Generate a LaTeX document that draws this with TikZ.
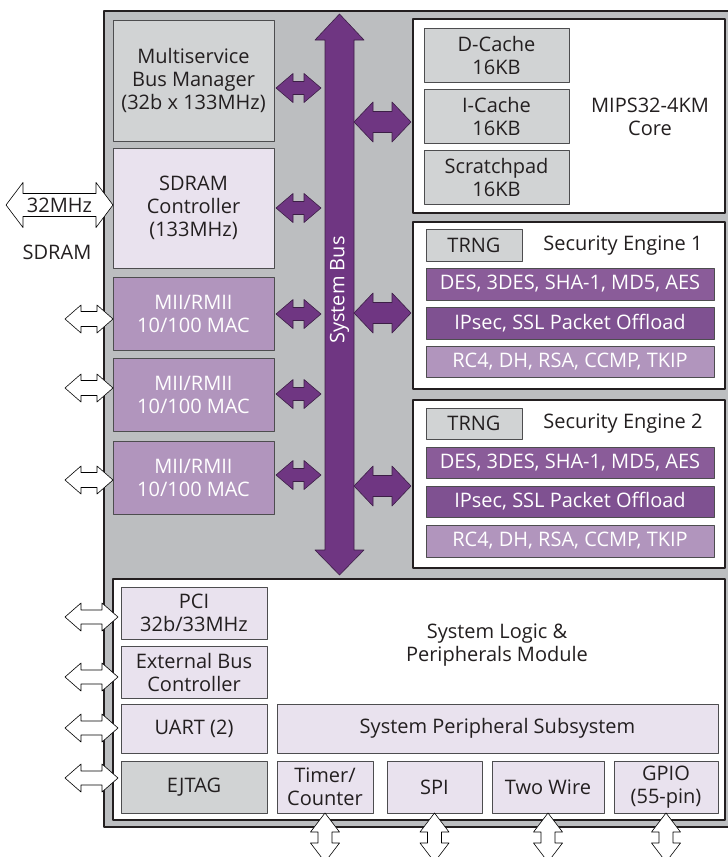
\documentclass[tikz,border=0pt]{standalone}
\usepackage{fontspec}
\setmainfont{Open Sans}
\usepackage{tikz}
\usetikzlibrary{calc}
\definecolor{chipgray}{RGB}{188,190,192}
\definecolor{boxgray}{RGB}{209,211,212}
\definecolor{lavlight}{RGB}{233,226,238}
\definecolor{lavmid}{RGB}{177,149,189}
\definecolor{purpdes}{RGB}{138,92,153}
\definecolor{purpip}{RGB}{127,81,145}
\definecolor{buspurple}{RGB}{111,54,130}
\definecolor{arrline}{RGB}{60,30,70}
\definecolor{linegray}{RGB}{77,77,79}
\definecolor{textdark}{RGB}{35,31,32}
\newcommand{\lbl}{\fontsize{20}{23}\selectfont}

% horizontal block arrow between two tips: style, left tip, right tip, shaft half, head half, head length
\newcommand{\hdarrow}[6]{%
  \draw[#1] (#2) -- ++(#6,-#5) -- ++(0,#5-#4) -- ($(#3)+(-#6,-#4)$) -- ++(0,#4-#5)
    -- (#3) -- ++(-#6,#5) -- ++(0,#4-#5) -- ($(#2)+(#6,#4)$) -- ++(0,#5-#4) -- cycle;}
% vertical block arrow: style, top tip, bottom tip, shaft half, head half, head length
\newcommand{\vdarrow}[6]{%
  \draw[#1] (#2) -- ++(#5,#6) -- ++(#4-#5,0) -- ($(#3)+(#4,-#6)$) -- ++(#5-#4,0)
    -- (#3) -- ++(-#5,-#6) -- ++(#5-#4,0) -- ($(#2)+(-#4,#6)$) -- ++(#4-#5,0) -- cycle;}

\begin{document}
\begin{tikzpicture}[x=1pt, y=-1pt, line join=round,
  dims/.style 2 args={minimum width=#1pt, minimum height=#2pt},
  blk/.style={draw=linegray, line width=0.8pt, inner sep=0pt, outer sep=0pt,
    align=center, font=\lbl, text=textdark},
  mod/.style={draw=textdark, line width=2.5pt, fill=white, inner sep=0pt, outer sep=0pt},
  txt/.style={align=center, font=\lbl, text=textdark},
  purparr/.style={fill=buspurple, draw=arrline, line width=0.6pt},
  whitearr/.style={fill=white, draw=black, line width=0.6pt}]
\useasboundingbox (0,0) rectangle (728,857);

% chip
\draw[draw=textdark, line width=2.5pt, fill=chipgray] (104,11) rectangle (729,827);

% left column
\node[blk, fill=boxgray, dims={161}{121}] (msbm) at (193.5,80.5) {Multiservice\\Bus Manager\\(32b x 133MHz)};
\node[blk, fill=lavlight, dims={161}{120}] (sdramc) at (193.5,208) {SDRAM\\Controller\\(133MHz)};
\node[blk, fill=lavmid, text=white, dims={161}{73}] (mac1) at (193.5,313.5) {MII/RMII\\10/100 MAC};
\node[blk, fill=lavmid, text=white, dims={161}{73}] (mac2) at (193.5,394.5) {MII/RMII\\10/100 MAC};
\node[blk, fill=lavmid, text=white, dims={161}{73}] (mac3) at (193.5,477.5) {MII/RMII\\10/100 MAC};

% system bus
\node[dims={29}{510}, inner sep=0pt, outer sep=0pt] (bus) at (339.5,295) {};
\draw[purparr] (bus.north west) -- ++(-10,0) -- ($(bus.north)+(0,-26)$) -- ($(bus.north east)+(10,0)$)
  -- (bus.north east) -- (bus.south east) -- ++(10,0) -- ($(bus.south)+(0,25)$)
  -- ($(bus.south west)+(-10,0)$) -- (bus.south west) -- cycle;
\node[rotate=90, font=\lbl, text=white] (buslbl) at (339.5,290) {System Bus};

% MIPS core
\node[mod, dims={312}{194}] (core) at (569,116) {};
\node[blk, fill=boxgray, dims={145}{54}] (dcache) at (496.5,55) {D-Cache\\16KB};
\node[blk, fill=boxgray, dims={145}{54}] (icache) at (496.5,116) {I-Cache\\16KB};
\node[blk, fill=boxgray, dims={145}{54}] (spad) at (496.5,177) {Scratchpad\\16KB};
\node[txt] (corelbl) at (650,117) {MIPS32-4KM\\Core};

% security engine 1
\node[mod, dims={312}{167}] (sec1) at (569,305.5) {};
\node[blk, fill=boxgray, dims={96}{32}] (trng1) at (474,245) {TRNG};
\node[txt] (sec1lbl) at (623,246) {Security Engine 1};
\node[blk, fill=purpdes, text=white, dims={288}{32}] (des1) at (570,284) {DES, 3DES, SHA-1, MD5, AES};
\node[blk, fill=purpip, text=white, dims={288}{32}] (ipsec1) at (570,323) {IPsec, SSL Packet Offload};
\node[blk, fill=lavmid, text=white, dims={288}{31}] (rc1) at (570,361.5) {RC4, DH, RSA, CCMP, TKIP};

% security engine 2
\node[mod, dims={312}{168}] (sec2) at (569,484) {};
\node[blk, fill=boxgray, dims={96}{31}] (trng2) at (474,423.5) {TRNG};
\node[txt] (sec2lbl) at (623,424) {Security Engine 2};
\node[blk, fill=purpdes, text=white, dims={288}{31}] (des2) at (570,462.5) {DES, 3DES, SHA-1, MD5, AES};
\node[blk, fill=purpip, text=white, dims={288}{31}] (ipsec2) at (570,501.5) {IPsec, SSL Packet Offload};
\node[blk, fill=lavmid, text=white, dims={288}{32}] (rc2) at (570,541) {RC4, DH, RSA, CCMP, TKIP};

% system logic & peripherals
\node[mod, dims={612}{241}] (slpm) at (419,699.5) {};
\node[txt] (slpmlbl) at (497,645) {System Logic \&\\Peripherals Module};
\node[blk, fill=lavlight, dims={146}{52}] (pci) at (194,613) {PCI\\32b/33MHz};
\node[blk, fill=lavlight, dims={146}{52}] (ebc) at (194,672) {External Bus\\Controller};
\node[blk, fill=lavlight, dims={146}{49}] (uart) at (194,728.5) {UART (2)};
\node[blk, fill=boxgray, dims={146}{52}] (ejtag) at (194,787) {EJTAG};
\node[blk, fill=lavlight, dims={441}{49}] (sps) at (497.5,728.5) {System Peripheral Subsystem};
\node[blk, fill=lavlight, dims={96}{52}] (timer) at (325,787) {Timer/\\Counter};
\node[blk, fill=lavlight, dims={95}{52}] (spi) at (434.5,787) {SPI};
\node[blk, fill=lavlight, dims={112}{52}] (twowire) at (548,787) {Two Wire};
\node[blk, fill=lavlight, dims={104}{52}] (gpio) at (666,787) {GPIO\\(55-pin)};

% links to the system bus
\coordinate (l1) at ($(msbm.east)+(2,7.5)$);
\coordinate (l2) at ($(sdramc.east)+(2,0)$);
\coordinate (l3) at ($(mac1.east)+(2,0.5)$);
\coordinate (l4) at ($(mac2.east)+(2,-0.5)$);
\coordinate (l5) at ($(mac3.east)+(2,-2.5)$);
\coordinate (r1) at ($(bus.west |- l1)+(-4,0)$);
\coordinate (r2) at ($(bus.west |- l2)+(-4,0)$);
\coordinate (r3) at ($(bus.west |- l3)+(-4,0)$);
\coordinate (r4) at ($(bus.west |- l4)+(-4,0)$);
\coordinate (r5) at ($(bus.west |- l5)+(-4,0)$);
\hdarrow{purparr}{l1}{r1}{6.5}{14.5}{17}
\hdarrow{purparr}{l2}{r2}{6.5}{14.5}{17}
\hdarrow{purparr}{l3}{r3}{6.5}{14.5}{17}
\hdarrow{purparr}{l4}{r4}{6.5}{14.5}{17}
\hdarrow{purparr}{l5}{r5}{6.5}{14.5}{17}

\coordinate (p1) at ($(core.west)+(-2,6)$);
\coordinate (p2) at ($(sec1.west)+(-2,7.5)$);
\coordinate (p3) at ($(sec2.west)+(-2,2)$);
\coordinate (q1) at (bus.east |- p1);
\coordinate (q2) at (bus.east |- p2);
\coordinate (q3) at (bus.east |- p3);
\hdarrow{purparr}{q1}{p1}{10.5}{20}{19}
\hdarrow{purparr}{q2}{p2}{10.5}{20}{19}
\hdarrow{purparr}{q3}{p3}{10.5}{20}{19}

% external pins
\coordinate (s2) at ($(sdramc.west)+(0,-3)$);
\coordinate (s1) at ($(s2)+(-107,0)$);
\hdarrow{whitearr}{s1}{s2}{11.5}{22.5}{17}
\node[txt] (clk) at ($(s1)!0.5!(s2)$) {32MHz};
\node[txt] (sdramlbl) at (57,252) {SDRAM};

\coordinate (e1) at ($(mac1.west)+(0,5.5)$);
\coordinate (e2) at ($(mac2.west)+(0,-6.5)$);
\coordinate (e3) at ($(mac3.west)+(0,2.5)$);
\coordinate (f1) at ($(e1)+(-48,0)$);
\coordinate (f2) at ($(e2)+(-48,0)$);
\coordinate (f3) at ($(e3)+(-48,0)$);
\hdarrow{whitearr}{f1}{e1}{7.5}{14}{16}
\hdarrow{whitearr}{f2}{e2}{7.5}{14}{16}
\hdarrow{whitearr}{f3}{e3}{7.5}{14}{16}

\coordinate (g1) at ($(pci.west)+(-3,4)$);
\coordinate (g2) at ($(ebc.west)+(-3,5)$);
\coordinate (g3) at ($(uart.west)+(-3,-0.5)$);
\coordinate (g4) at ($(ejtag.west)+(-3,-9)$);
\coordinate (h1) at ($(g1)+(-53,0)$);
\coordinate (h2) at ($(g2)+(-53,0)$);
\coordinate (h3) at ($(g3)+(-53,0)$);
\coordinate (h4) at ($(g4)+(-53,0)$);
\hdarrow{whitearr}{h1}{g1}{7}{14}{16}
\hdarrow{whitearr}{h2}{g2}{7}{14}{16}
\hdarrow{whitearr}{h3}{g3}{7}{14}{16}
\hdarrow{whitearr}{h4}{g4}{7}{14}{16}

\coordinate (t1) at (timer.south);
\coordinate (t2) at (spi.south);
\coordinate (t3) at (twowire.south);
\coordinate (t4) at (gpio.south);
\coordinate (u1) at ($(t1)+(0,49)$);
\coordinate (u2) at ($(t2)+(0,49)$);
\coordinate (u3) at ($(t3)+(0,49)$);
\coordinate (u4) at ($(t4)+(0,49)$);
\vdarrow{whitearr}{t1}{u1}{7}{14.5}{19}
\vdarrow{whitearr}{t2}{u2}{7}{14.5}{19}
\vdarrow{whitearr}{t3}{u3}{7}{14.5}{19}
\vdarrow{whitearr}{t4}{u4}{7}{14.5}{19}
\end{tikzpicture}
\end{document}
